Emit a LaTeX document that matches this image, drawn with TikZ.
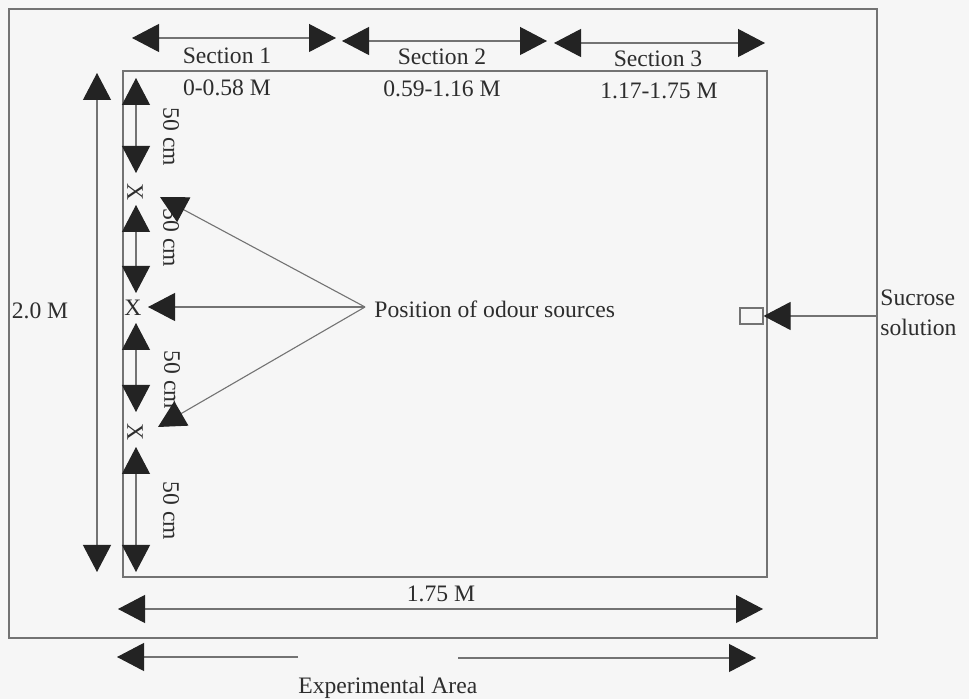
\documentclass[tikz,border=0pt]{standalone}
\usepackage{fontspec}
\setmainfont{Liberation Serif}
\usetikzlibrary{arrows.meta}
\definecolor{bg}{RGB}{246,246,246}
\definecolor{ln}{RGB}{115,115,115}
\definecolor{tipc}{RGB}{35,35,35}
\definecolor{txt}{RGB}{45,45,45}
\begin{document}
\begin{tikzpicture}[x=0.5pt,y=-0.5pt,
  lbl/.style={font=\fontsize{11.8}{15}\selectfont, text=txt, inner sep=0pt},
  frame/.style={draw=ln, line width=0.55pt},
  tri/.style={Triangle[length=13.5pt,width=14pt,color=tipc,fill=tipc]},
  dimarrow/.style={draw=ln, line width=0.55pt, {Triangle[length=13.5pt,width=14pt,color=tipc,fill=tipc]}-{Triangle[length=13.5pt,width=14pt,color=tipc,fill=tipc]}},
  pointer/.style={draw=ln, line width=0.55pt, -{Triangle[length=13.5pt,width=14pt,color=tipc,fill=tipc]}}
]
\useasboundingbox[fill=bg] (0,0) rectangle (969,699);

% frames
\draw[frame] (9,9) rectangle (877,638);
\draw[frame] (123,71) rectangle (767,577);

% section arrows
\coordinate (s1a) at (132,38); \coordinate (s1b) at (336,38);
\coordinate (s2a) at (342,41); \coordinate (s2b) at (547,41);
\coordinate (s3a) at (554,43); \coordinate (s3b) at (765,43);
\draw[dimarrow] (s1a) -- (s1b);
\draw[dimarrow] (s2a) -- (s2b);
\draw[dimarrow] (s3a) -- (s3b);
\node[lbl, anchor=base] (sec1) at (227,64) {Section 1};
\node[lbl, anchor=base] (sec2) at (442,65) {Section 2};
\node[lbl, anchor=base] (sec3) at (658,67) {Section 3};
\node[lbl, anchor=base] (r1) at (227,96) {0-0.58 M};
\node[lbl, anchor=base] (r2) at (442,97) {0.59-1.16 M};
\node[lbl, anchor=base] (r3) at (659,99) {1.17-1.75 M};

% 2.0 M
\coordinate (h1) at (97,73); \coordinate (h2) at (97,572);
\draw[dimarrow] (h1) -- (h2);
\node[lbl] (l20) at (40,311) {2.0 M};

% 50 cm segments
\coordinate (a1) at (136,78);  \coordinate (b1) at (136,173);
\coordinate (a2) at (136,205); \coordinate (b2) at (136,293);
\coordinate (a3) at (136,323); \coordinate (b3) at (136,412);
\coordinate (a4) at (136,447); \coordinate (b4) at (136,572);
\draw[dimarrow] (a1) -- (b1);
\draw[dimarrow] (a2) -- (b2);
\draw[dimarrow] (a3) -- (b3);
\draw[dimarrow] (a4) -- (b4);
\node[lbl, rotate=-90] (c1) at (171,137) {50 cm};
\node[lbl, rotate=-90] (c2) at (171,238) {50 cm};
\node[lbl, rotate=-90] (c3) at (172,380) {50 cm};
\node[lbl, rotate=-90] (c4) at (171,511) {50 cm};
\node[lbl, rotate=-90] (x1) at (135,192) {X};
\node[lbl] (x2) at (133,308) {X};
\node[lbl, rotate=-90] (x3) at (135,432) {X};

% odour sources
\coordinate (conv) at (365,307);
\coordinate (o1) at (160,197);
\coordinate (o2) at (148,307);
\coordinate (o3) at (158,427);
\draw[pointer] (conv) -- (o1);
\draw[pointer] (conv) -- (o2);
\draw[pointer] (conv) -- (o3);
\node[lbl, anchor=base west] (odour) at (374,318) {Position of odour sources};

% sucrose
\node[draw=ln, line width=0.55pt, minimum width=11.5pt, minimum height=8pt, inner sep=0pt] (sq) at (751.5,316) {};
\coordinate (sucR) at (877,316);
\draw[pointer] (sucR) -- (sq.east);
\node[lbl, align=left, anchor=west] (suc) at (880,313) {Sucrose\\solution};

% 1.75 M
\coordinate (w1) at (118,609); \coordinate (w2) at (763,609);
\draw[dimarrow] (w1) -- (w2);
\node[lbl, anchor=base] (l175) at (441,602) {1.75 M};

% experimental area
\coordinate (e1s) at (298,657); \coordinate (e1t) at (117,657);
\coordinate (e2s) at (458,658); \coordinate (e2t) at (756,658);
\draw[pointer] (e1s) -- (e1t);
\draw[pointer] (e2s) -- (e2t);
\node[lbl, anchor=base west] (exp) at (298,693) {Experimental Area};
\end{tikzpicture}
\end{document}
